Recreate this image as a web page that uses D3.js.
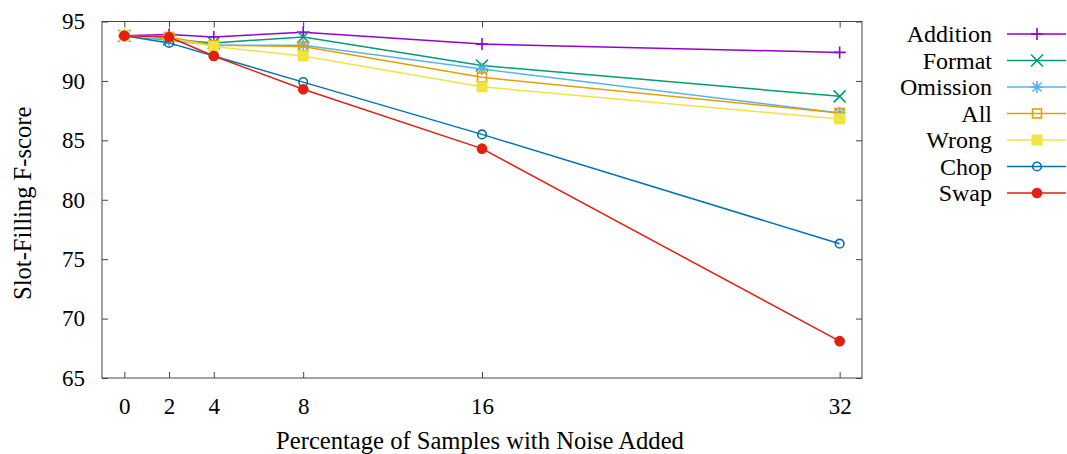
<!DOCTYPE html>
<html>
<head>
<meta charset="utf-8">
<script src="https://cdn.jsdelivr.net/npm/d3@7"></script>
<style>
  body { margin: 0; background: #fff; }
  svg text { font-family: "Liberation Serif", "Times New Roman", Times, "DejaVu Serif", serif !important; fill: #000; }
</style>
</head>
<body>
<div id="chart"></div>
<script>
// data
var noiseLevels = [0, 2, 4, 8, 16, 32];
var yTicks = [65, 70, 75, 80, 85, 90, 95];

var seriesNames = ["Addition", "Format", "Omission", "All", "Wrong", "Chop", "Swap"];
var additionScores = [93.8, 93.9, 93.7, 94.1, 93.1, 92.4];
var formatScores   = [93.8, 93.5, 93.2, 93.7, 91.3, 88.7];
var omissionScores = [93.8, 93.4, 93.0, 93.0, 91.0, 87.3];
var allScores      = [93.8, 93.7, 93.0, 92.9, 90.3, 87.3];
var wrongScores    = [93.8, 93.6, 92.9, 92.1, 89.5, 86.8];
var chopScores     = [93.8, 93.2, 92.1, 89.9, 85.5, 76.3];
var swapScores     = [93.8, 93.7, 92.1, 89.3, 84.3, 68.1];

var seriesColors = ["#9400d3", "#009e73", "#56b4e9", "#e69f00", "#f0e442", "#0072b2", "#e51e10"];
var seriesMarkers = ["plus", "cross", "star", "square", "squareFilled", "circle", "circleFilled"];

var fontStack = '"Liberation Serif", "Times New Roman", Times, "DejaVu Serif", serif';

var svgWidth = 1067;
var svgHeight = 454;

var margin = {
  top: 21.5,
  right: 205,
  bottom: 76,
  left: 102
};

var width = svgWidth - margin.left - margin.right;
var height = svgHeight - margin.top - margin.bottom;

var svg = d3.select("#chart")
  .append("svg")
  .attr("width", svgWidth)
  .attr("height", svgHeight)
  .attr("font-family", fontStack);

var chartGroup = svg.append("g")
  .attr("transform", `translate(${margin.left}, ${margin.top})`);

var xScale = d3.scaleLinear()
  .domain([-1, 33])
  .range([0, width]);

var yScale = d3.scaleLinear()
  .domain([65, 95])
  .range([height, 0]);

var axisColor = "#444";

// gnuplot style: ticks point inward and are mirrored on the opposite side
function styleAxis(g) {
  g.attr("font-family", fontStack);
  g.select(".domain").remove();
  g.selectAll(".tick line").attr("stroke", axisColor).attr("stroke-width", 1);
  g.selectAll(".tick text").attr("font-size", 23).attr("fill", "#000");
}

chartGroup.append("g")
  .attr("transform", `translate(0, ${height})`)
  .call(d3.axisBottom(xScale).tickValues(noiseLevels).tickSizeInner(-6).tickSizeOuter(0).tickPadding(20))
  .call(styleAxis);

chartGroup.append("g")
  .call(d3.axisTop(xScale).tickValues(noiseLevels).tickSizeInner(-6).tickSizeOuter(0).tickFormat(""))
  .call(styleAxis);

chartGroup.append("g")
  .call(d3.axisLeft(yScale).tickValues(yTicks).tickSizeInner(-6).tickSizeOuter(0).tickPadding(17))
  .call(styleAxis);

chartGroup.append("g")
  .attr("transform", `translate(${width}, 0)`)
  .call(d3.axisRight(yScale).tickValues(yTicks).tickSizeInner(-6).tickSizeOuter(0).tickFormat(""))
  .call(styleAxis);

// frame
chartGroup.append("rect")
  .attr("width", width)
  .attr("height", height)
  .attr("fill", "none")
  .attr("stroke", axisColor)
  .attr("stroke-width", 1);

// axis titles
svg.append("text")
  .attr("x", 480)
  .attr("y", 449)
  .attr("text-anchor", "middle")
  .attr("font-size", 24.6)
  .text("Percentage of Samples with Noise Added");

svg.append("text")
  .attr("transform", `translate(31, ${margin.top + yScale(79.7)}) rotate(-90)`)
  .attr("text-anchor", "middle")
  .attr("font-size", 24.6)
  .text("Slot-Filling F-score");

// draw one marker centred on 0,0
function drawMarker(g, type, color) {
  var s = 6;
  if (type === "plus") {
    g.append("path").attr("d", `M${-s},0H${s}M0,${-s}V${s}`)
      .attr("stroke", color).attr("stroke-width", 1.6).attr("fill", "none");
  } else if (type === "cross") {
    g.append("path").attr("d", `M${-s},${-s}L${s},${s}M${-s},${s}L${s},${-s}`)
      .attr("stroke", color).attr("stroke-width", 1.6).attr("fill", "none");
  } else if (type === "star") {
    g.append("path").attr("d", `M${-s},0H${s}M0,${-s}V${s}M${-s*0.75},${-s*0.75}L${s*0.75},${s*0.75}M${-s*0.75},${s*0.75}L${s*0.75},${-s*0.75}`)
      .attr("stroke", color).attr("stroke-width", 1.6).attr("fill", "none");
  } else if (type === "square") {
    g.append("rect").attr("x", -4.5).attr("y", -4.5).attr("width", 9).attr("height", 9)
      .attr("stroke", color).attr("stroke-width", 1.6).attr("fill", "none");
  } else if (type === "squareFilled") {
    g.append("rect").attr("x", -5.5).attr("y", -5.5).attr("width", 11).attr("height", 11)
      .attr("fill", color);
  } else if (type === "circle") {
    g.append("circle").attr("r", 4.3)
      .attr("stroke", color).attr("stroke-width", 1.6).attr("fill", "none");
  } else if (type === "circleFilled") {
    g.append("circle").attr("r", 5.3).attr("fill", color);
  }
}

var allSeries = [additionScores, formatScores, omissionScores, allScores, wrongScores, chopScores, swapScores];

var line = d3.line()
  .x((d, i) => xScale(noiseLevels[i]))
  .y(d => yScale(d));

allSeries.forEach(function(values, k) {
  var color = seriesColors[k];
  var group = chartGroup.append("g");

  group.append("path")
    .datum(values)
    .attr("d", line)
    .attr("fill", "none")
    .attr("stroke", color)
    .attr("stroke-width", 1.5);

  values.forEach(function(v, i) {
    var m = group.append("g")
      .attr("transform", `translate(${xScale(noiseLevels[i])}, ${yScale(v)})`);
    drawMarker(m, seriesMarkers[k], color);
  });
});

// legend on the right, outside the plot
var legend = svg.append("g");
var legendTop = 34;
var legendStep = 26.5;

seriesNames.forEach(function(name, k) {
  var y = legendTop + k * legendStep;
  legend.append("text")
    .attr("x", 992)
    .attr("y", y)
    .attr("dy", "0.35em")
    .attr("text-anchor", "end")
    .attr("font-size", 24)
    .text(name);

  legend.append("line")
    .attr("x1", 1007)
    .attr("x2", 1066)
    .attr("y1", y)
    .attr("y2", y)
    .attr("stroke", seriesColors[k])
    .attr("stroke-width", 1.5);

  var m = legend.append("g").attr("transform", `translate(1037, ${y})`);
  drawMarker(m, seriesMarkers[k], seriesColors[k]);
});
</script>
</body>
</html>
